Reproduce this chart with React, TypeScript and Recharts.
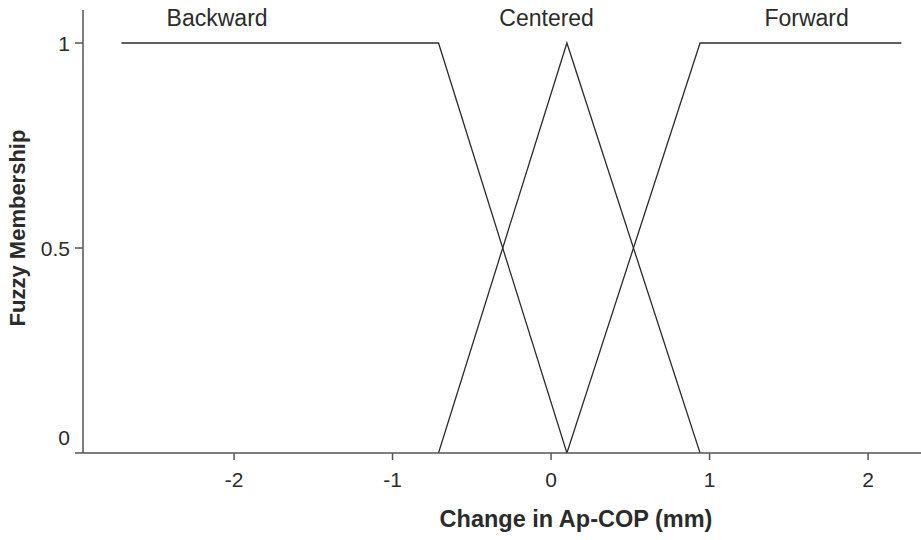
import React from 'react';
import { LineChart, Line, XAxis, YAxis, ReferenceDot, Label } from 'recharts';

// membership functions, (change in mm, membership)
const backward = [
	{ x: -2.71, y: 1 },
	{ x: -0.71, y: 1 },
	{ x: 0.1, y: 0 },
];
const centered = [
	{ x: -0.71, y: 0 },
	{ x: 0.1, y: 1 },
	{ x: 0.94, y: 0 },
];
const forward = [
	{ x: 0.1, y: 0 },
	{ x: 0.94, y: 1 },
	{ x: 2.21, y: 1 },
];

const xTicks = [-2, -1, 0, 1, 2];
const yTicks = [0, 0.5, 1];
const setNames = ['Backward', 'Centered', 'Forward'];

const FONT = '"Liberation Sans", Arial, Helvetica, sans-serif';
const INK = '#2b2b2b';
const AXIS = '#555';

// where the set names sit above the curves
const nameX = [-2.107, -0.028, 1.612];
const nameY = 1.061;

const YTick = (props: any) => {
	const { x, y, payload } = props;
	const shift = payload.value === 0 ? -16 : 0; // bottom label is lifted off the x axis
	return (
		<text x={x} y={y + shift} dy="0.36em" textAnchor="end" fontSize={21} fontFamily={FONT} fill={INK}>
			{payload.value}
		</text>
	);
};

export default function App() {
	return (
		<div style={{ position: 'absolute', left: 0, top: 0, background: '#fff' }}>
			<LineChart width={921} height={540} margin={{ top: 10, right: 0, left: 0, bottom: 0 }}>
				<XAxis
					type="number"
					dataKey="x"
					domain={[-2.953, 2.334]}
					allowDataOverflow
					ticks={xTicks}
					height={87}
					tickSize={7}
					tickMargin={12}
					stroke={AXIS}
					strokeWidth={1.5}
					tick={{ fontSize: 21, fontFamily: FONT, fill: INK }}
				>
					<Label
						content={() => (
							<text x={576} y={527} textAnchor="middle" fontSize={23.5} fontWeight="bold" fontFamily={FONT} fill={INK}>
								Change in Ap-COP (mm)
							</text>
						)}
					/>
				</XAxis>
				<YAxis
					type="number"
					dataKey="y"
					domain={[0, 1.0805]}
					allowDataOverflow
					ticks={yTicks}
					width={83}
					tickSize={8}
					tickMargin={5}
					stroke={AXIS}
					strokeWidth={1.5}
					tick={<YTick />}
				>
					<Label
						content={() => (
							<text
								x={17}
								y={228}
								transform="rotate(-90 17 228)"
								dy="0.36em"
								textAnchor="middle"
								fontSize={22}
								fontWeight="bold"
								fontFamily={FONT}
								fill={INK}
							>
								Fuzzy Membership
							</text>
						)}
					/>
				</YAxis>

				<Line data={backward} dataKey="y" type="linear" stroke={INK} strokeWidth={1.3} dot={false} isAnimationActive={false} />
				<Line data={centered} dataKey="y" type="linear" stroke={INK} strokeWidth={1.3} dot={false} isAnimationActive={false} />
				<Line data={forward} dataKey="y" type="linear" stroke={INK} strokeWidth={1.3} dot={false} isAnimationActive={false} />

				{setNames.map((name, i) => (
					<ReferenceDot
						key={name}
						x={nameX[i]}
						y={nameY}
						r={0}
						fill="none"
						stroke="none"
						label={{ value: name, position: 'center', fontSize: 23, fontFamily: FONT, fill: INK }}
					/>
				))}
			</LineChart>
		</div>
	);
}
